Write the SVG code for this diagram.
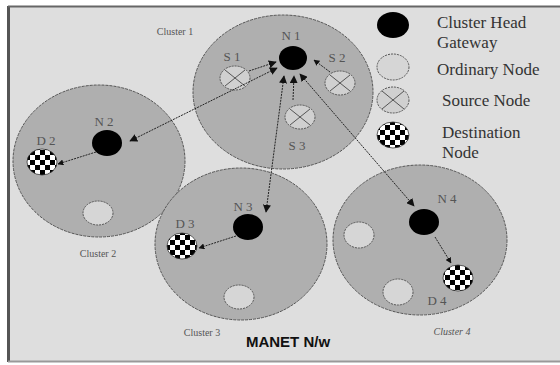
<svg xmlns="http://www.w3.org/2000/svg" width="560" height="365" viewBox="0 0 560 365">
<defs>
  <pattern id="chk" width="10" height="10" patternUnits="userSpaceOnUse">
    <rect width="10" height="10" fill="#fff"/>
    <rect width="5" height="5" fill="#000"/>
    <rect x="5" y="5" width="5" height="5" fill="#000"/>
  </pattern>
  <marker id="ah" viewBox="0 0 10 10" refX="9" refY="5" markerWidth="8" markerHeight="8" orient="auto-start-reverse" markerUnits="userSpaceOnUse">
    <path d="M0,0 L10,5 L0,10 z" fill="#111"/>
  </marker>
  <marker id="ahs" viewBox="0 0 10 10" refX="9" refY="5" markerWidth="6" markerHeight="6" orient="auto-start-reverse" markerUnits="userSpaceOnUse">
    <path d="M0,0 L10,5 L0,10 z" fill="#111"/>
  </marker>
</defs>
<style>
  .cl { fill:#afafaf; stroke:#555; stroke-width:1; stroke-dasharray:3,1; }
  .head { fill:#000; }
  .ord { fill:#d6d6d6; stroke:#555; stroke-width:1; stroke-dasharray:2,1; }
  .src { fill:#d0d0d0; stroke:#555; stroke-width:1; stroke-dasharray:2,1; }
  .x { stroke:#555; stroke-width:1; fill:none; }
  .dst { stroke:#333; stroke-width:0.8; }
  .lbl { font-family:"Liberation Serif", serif; font-size:13px; fill:#555; text-anchor:middle; }
  .cap { font-family:"Liberation Serif", serif; font-size:10px; fill:#555; text-anchor:middle; }
  .leg { font-family:"Liberation Serif", serif; font-size:17px; fill:#333; }
  .ln { stroke:#222; stroke-width:1; stroke-dasharray:2,1; fill:none; }
</style>
<rect x="0" y="0" width="560" height="365" fill="#fff"/>
<rect x="8" y="6" width="552" height="355" fill="#dedede"/>
<line x1="8.5" y1="6" x2="8.5" y2="362" stroke="#555" stroke-width="3"/>
<line x1="8" y1="6.5" x2="560" y2="6.5" stroke="#666" stroke-width="2"/>
<line x1="8" y1="361.5" x2="560" y2="361.5" stroke="#999" stroke-width="2"/>

<g id="cluster1">
  <ellipse class="cl" cx="283" cy="92" rx="90" ry="77"/>
  <text class="cap" x="175" y="35">Cluster 1</text>
</g>
<g id="cluster2">
  <ellipse class="cl" cx="99" cy="161" rx="86" ry="76"/>
  <text class="cap" x="98" y="257">Cluster 2</text>
</g>
<g id="cluster3">
  <ellipse class="cl" cx="241" cy="244" rx="86" ry="76"/>
  <text class="cap" x="202" y="336">Cluster 3</text>
</g>
<g id="cluster4">
  <ellipse class="cl" cx="420" cy="240" rx="87" ry="75"/>
  <text class="cap" x="452" y="335" font-style="italic">Cluster 4</text>
</g>

<g id="N1"><ellipse class="head" cx="293" cy="58" rx="14" ry="12"/><text class="lbl" x="291" y="40">N 1</text></g>
<g id="S1"><ellipse class="src" cx="235" cy="78" rx="15" ry="12"/><path class="x" d="M225,70 L245,86 M225,86 L245,70"/><text class="lbl" x="232" y="61">S 1</text></g>
<g id="S2"><ellipse class="src" cx="340" cy="83" rx="15" ry="12"/><path class="x" d="M330,75 L350,91 M330,91 L350,75"/><text class="lbl" x="337" y="62">S 2</text></g>
<g id="S3"><ellipse class="src" cx="300" cy="117" rx="15" ry="12"/><path class="x" d="M290,109 L310,125 M290,125 L310,109"/><text class="lbl" x="297" y="150">S 3</text></g>

<g id="N2"><ellipse class="head" cx="107" cy="143" rx="15" ry="13"/><text class="lbl" x="104" y="126">N 2</text></g>
<g id="D2"><ellipse cx="42" cy="162" rx="15" ry="13" fill="url(#chk)" class="dst"/><text class="lbl" x="46" y="145">D 2</text></g>
<g id="O2"><ellipse class="ord" cx="98" cy="213" rx="15" ry="12"/></g>

<g id="N3"><ellipse class="head" cx="248" cy="227" rx="15" ry="13"/><text class="lbl" x="243" y="211">N 3</text></g>
<g id="D3"><ellipse cx="182" cy="246" rx="15" ry="13" fill="url(#chk)" class="dst"/><text class="lbl" x="185" y="228">D 3</text></g>
<g id="O3"><ellipse class="ord" cx="239" cy="297" rx="15" ry="12"/></g>

<g id="N4"><ellipse class="head" cx="424" cy="222" rx="15" ry="13"/><text class="lbl" x="447" y="203">N 4</text></g>
<g id="D4"><ellipse cx="458" cy="278" rx="15" ry="13" fill="url(#chk)" class="dst"/><text class="lbl" x="437" y="305">D 4</text></g>
<g id="O4a"><ellipse class="ord" cx="359" cy="235" rx="15" ry="13"/></g>
<g id="O4b"><ellipse class="ord" cx="398" cy="292" rx="15" ry="13"/></g>

<g id="connectors">
  <line class="ln" x1="130" y1="141" x2="277" y2="68" marker-start="url(#ah)" marker-end="url(#ah)"/>
  <line class="ln" x1="249" y1="71" x2="276" y2="62" marker-end="url(#ah)"/>
  <line class="ln" x1="330" y1="72" x2="314" y2="60" marker-end="url(#ahs)"/>
  <line class="ln" x1="293" y1="100" x2="294" y2="76" marker-end="url(#ah)"/>
  <line class="ln" x1="284" y1="76" x2="266" y2="212" marker-start="url(#ah)" marker-end="url(#ah)"/>
  <line class="ln" x1="300" y1="74" x2="414" y2="206" marker-start="url(#ah)" marker-end="url(#ah)"/>
  <line class="ln" x1="96" y1="152" x2="58" y2="164" marker-end="url(#ahs)"/>
  <line class="ln" x1="236" y1="236" x2="199" y2="248" marker-end="url(#ahs)"/>
  <line class="ln" x1="435" y1="237" x2="451" y2="263" marker-end="url(#ahs)"/>
</g>

<g id="title"><text x="288" y="347" font-family="Liberation Sans, Arial, sans-serif" font-size="15" font-weight="bold" fill="#111" text-anchor="middle">MANET N/w</text></g>

<g id="legend">
  <ellipse class="head" cx="393" cy="25" rx="16" ry="13"/>
  <text class="leg" x="437" y="28">Cluster Head</text>
  <text class="leg" x="437" y="48">Gateway</text>
  <ellipse class="ord" cx="393" cy="67" rx="16" ry="13"/>
  <text class="leg" x="437" y="75">Ordinary Node</text>
  <ellipse class="src" cx="393" cy="100" rx="16" ry="13"/>
  <path class="x" d="M382,91 L404,109 M382,109 L404,91"/>
  <text class="leg" x="442" y="106">Source Node</text>
  <ellipse cx="393" cy="135" rx="16" ry="13" fill="url(#chk)" class="dst"/>
  <text class="leg" x="442" y="138">Destination</text>
  <text class="leg" x="442" y="158">Node</text>
</g>
</svg>
